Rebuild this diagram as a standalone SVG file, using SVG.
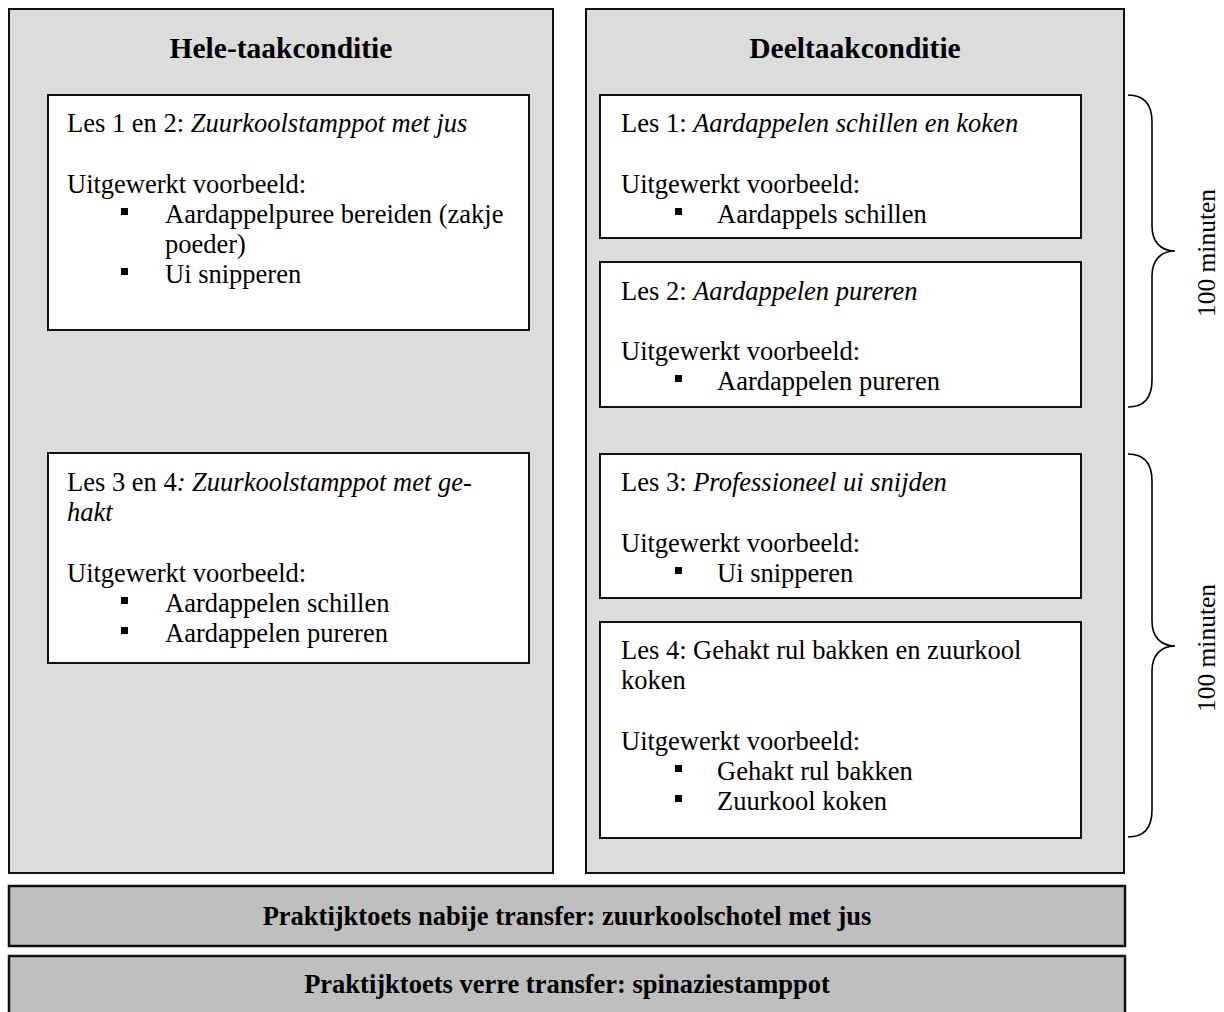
<svg xmlns="http://www.w3.org/2000/svg" width="1224" height="1012" viewBox="0 0 1224 1012">
<style>
  .outer { fill: #dcdcdc; stroke: #111; stroke-width: 2; }
  .inner { fill: #ffffff; stroke: #111; stroke-width: 2; }
  .bar { fill: #bfbfbf; stroke: #111; stroke-width: 2.5; }
  .t { font-family: "Liberation Serif", "Times New Roman", serif; font-size: 26.5px; fill: #000; }
  .i { font-style: italic; }
  .title { font-family: "Liberation Serif", "Times New Roman", serif; font-size: 29.5px; font-weight: bold; fill: #000; text-anchor: middle; }
  .bt { font-family: "Liberation Serif", "Times New Roman", serif; font-size: 26.5px; font-weight: bold; fill: #000; text-anchor: middle; }
  .bul { fill: #000; }
  .brace { fill: none; stroke: #000; stroke-width: 1.6; }
  .dur { font-family: "Liberation Serif", "Times New Roman", serif; font-size: 25.5px; fill: #000; text-anchor: middle; }
</style>

<g id="hele-taakconditie">
  <rect class="outer" x="9" y="9" width="544" height="864"/>
  <text class="title" x="281" y="58">Hele-taakconditie</text>
</g>

<g id="deeltaakconditie">
  <rect class="outer" x="586" y="9" width="538" height="864"/>
  <text class="title" x="855" y="58">Deeltaakconditie</text>
</g>

<g id="hele-les12">
  <rect class="inner" x="48" y="95" width="481" height="235"/>
  <text class="t" x="67" y="132">Les 1 en 2: <tspan class="i">Zuurkoolstamppot met jus</tspan></text>
  <text class="t" x="67" y="193">Uitgewerkt voorbeeld:</text>
  <rect class="bul" x="121" y="208" width="7" height="7"/>
  <text class="t" x="165" y="223">Aardappelpuree bereiden (zakje</text>
  <text class="t" x="165" y="253">poeder)</text>
  <rect class="bul" x="121" y="268" width="7" height="7"/>
  <text class="t" x="165" y="283">Ui snipperen</text>
</g>

<g id="hele-les34">
  <rect class="inner" x="48" y="453" width="481" height="210"/>
  <text class="t" x="67" y="491">Les 3 en 4<tspan class="i">: Zuurkoolstamppot met ge-</tspan></text>
  <text class="t i" x="67" y="521">hakt</text>
  <text class="t" x="67" y="582">Uitgewerkt voorbeeld:</text>
  <rect class="bul" x="121" y="597" width="7" height="7"/>
  <text class="t" x="165" y="612">Aardappelen schillen</text>
  <rect class="bul" x="121" y="627" width="7" height="7"/>
  <text class="t" x="165" y="642">Aardappelen pureren</text>
</g>

<g id="deel-les1">
  <rect class="inner" x="600" y="95" width="481" height="143"/>
  <text class="t" x="621" y="132">Les 1: <tspan class="i">Aardappelen schillen en koken</tspan></text>
  <text class="t" x="621" y="193">Uitgewerkt voorbeeld:</text>
  <rect class="bul" x="675" y="208" width="7" height="7"/>
  <text class="t" x="717" y="223">Aardappels schillen</text>
</g>

<g id="deel-les2">
  <rect class="inner" x="600" y="262" width="481" height="145"/>
  <text class="t" x="621" y="300">Les 2: <tspan class="i">Aardappelen pureren</tspan></text>
  <text class="t" x="621" y="360">Uitgewerkt voorbeeld:</text>
  <rect class="bul" x="675" y="375" width="7" height="7"/>
  <text class="t" x="717" y="390">Aardappelen pureren</text>
</g>

<g id="deel-les3">
  <rect class="inner" x="600" y="454" width="481" height="144"/>
  <text class="t" x="621" y="491">Les 3: <tspan class="i">Professioneel ui snijden</tspan></text>
  <text class="t" x="621" y="552">Uitgewerkt voorbeeld:</text>
  <rect class="bul" x="675" y="567" width="7" height="7"/>
  <text class="t" x="717" y="582">Ui snipperen</text>
</g>

<g id="deel-les4">
  <rect class="inner" x="600" y="622" width="481" height="216"/>
  <text class="t" x="621" y="659">Les 4: Gehakt rul bakken en zuurkool</text>
  <text class="t" x="621" y="689">koken</text>
  <text class="t" x="621" y="750">Uitgewerkt voorbeeld:</text>
  <rect class="bul" x="675" y="765" width="7" height="7"/>
  <text class="t" x="717" y="780">Gehakt rul bakken</text>
  <rect class="bul" x="675" y="795" width="7" height="7"/>
  <text class="t" x="717" y="810">Zuurkool koken</text>
</g>

<g id="connectors">
  <path class="brace" d="M1128,95 C1145,95 1152,105 1152,122 L1152,226 C1152,241 1160,251 1175,251 C1160,251 1152,261 1152,276 L1152,380 C1152,397 1145,407 1128,407"/>
  <path class="brace" d="M1128,454 C1145,454 1152,464 1152,481 L1152,621 C1152,636 1160,646 1175,646 C1160,646 1152,656 1152,671 L1152,810 C1152,827 1145,837 1128,837"/>
</g>

<g id="duur1">
  <text class="dur" x="1215" y="253" transform="rotate(-90 1215 253)">100 minuten</text>
</g>
<g id="duur2">
  <text class="dur" x="1215" y="648" transform="rotate(-90 1215 648)">100 minuten</text>
</g>

<g id="toets-nabij">
  <rect class="bar" x="9" y="886" width="1116" height="60"/>
  <text class="bt" x="567" y="925">Praktijktoets nabije transfer: zuurkoolschotel met jus</text>
</g>

<g id="toets-ver">
  <rect class="bar" x="9" y="956" width="1116" height="62"/>
  <text class="bt" x="567" y="993">Praktijktoets verre transfer: spinaziestamppot</text>
</g>
</svg>
